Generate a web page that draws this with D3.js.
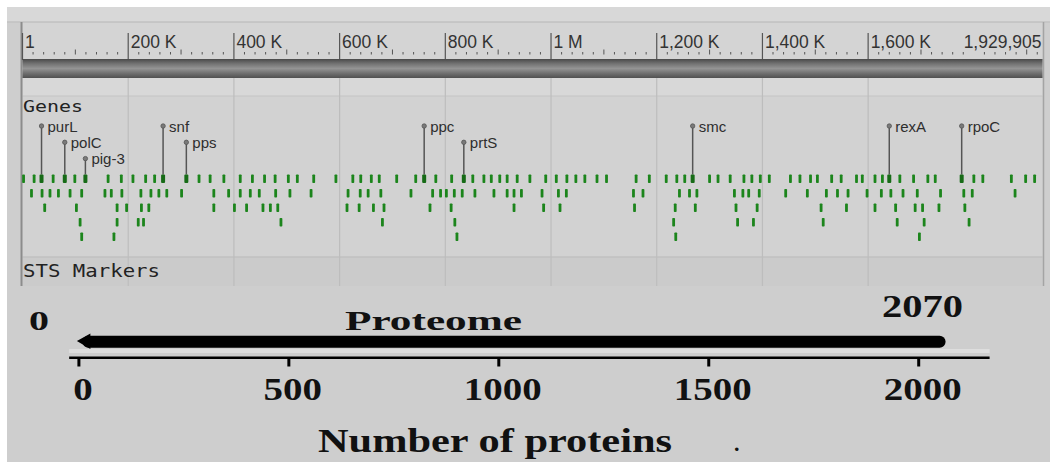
<!DOCTYPE html>
<html>
<head>
<meta charset="utf-8">
<script src="https://cdn.jsdelivr.net/npm/d3@7"></script>
<style>
  body { margin: 0; background: #fff; }
  svg { display: block; }
</style>
</head>
<body>
<svg id="chart" width="1050" height="467"></svg>
<script>
// ---- genome track, positions in kb ----
const genomeLength = 1929.905;
const majorTicks = [0, 200, 400, 600, 800, 1000, 1200, 1400, 1600];
const majorLabels = ["1", "200 K", "400 K", "600 K", "800 K", "1 M", "1,200 K", "1,400 K", "1,600 K"];
const endLabel = "1,929,905";

// gene ticks, one array per stacking row
const geneRow1 = [2, 22, 58, 99, 162, 187, 209, 233, 250, 334, 355, 381, 412, 435, 458, 478, 503, 520, 551, 593,
  625, 640, 660, 675, 708, 744, 782, 812, 852, 873, 887, 903, 917, 936, 960, 990, 1010, 1030, 1047, 1064, 1087,
  1105, 1161, 1186, 1218, 1238, 1253, 1300, 1316, 1339, 1365, 1380, 1396, 1413, 1453, 1471, 1491, 1504, 1531,
  1549, 1578, 1589, 1613, 1627, 1660, 1686, 1713, 1727, 1800, 1817, 1871, 1898, 1915];
const geneRow2 = [17, 37, 52, 68, 90, 112, 156, 168, 188, 224, 243, 258, 273, 301, 362, 390, 412, 431, 448, 479,
  506, 546, 616, 639, 654, 678, 735, 776, 791, 802, 817, 832, 856, 892, 917, 930, 944, 983, 1014, 1029, 1156,
  1174, 1243, 1262, 1276, 1347, 1363, 1374, 1394, 1444, 1485, 1521, 1542, 1562, 1598, 1625, 1643, 1666, 1693,
  1737, 1781, 1797, 1878];
const geneRow3 = [42, 102, 179, 197, 225, 239, 362, 401, 424, 455, 469, 483, 614, 637, 664, 684, 771, 811, 930,
  986, 1017, 1158, 1235, 1273, 1350, 1390, 1511, 1559, 1613, 1652, 1689, 1703, 1734, 1783];
const geneRow4 = [109, 179, 219, 229, 489, 681, 818, 1232, 1353, 1383, 1515, 1655, 1706, 1791];
const geneRow5 = [112, 173, 822, 1236, 1697];

// named genes (kb) and the level of their label
const geneNames = ["purL", "polC", "pig-3", "snf", "pps", "ppc", "prtS", "smc", "rexA", "rpoC"];
const genePos = [36, 80, 119, 266, 310, 760, 835, 1268, 1640, 1777];
const geneLevel = [0, 1, 2, 0, 1, 0, 1, 0, 0, 0];

// ---- proteome ----
const proteomeRange = [0, 2070];
const proteinTicks = [0, 500, 1000, 1500, 2000];
const proteinAxisExtent = [-22, 2170];

const svg = d3.select("#chart");

svg.append("rect").attr("width", 1050).attr("height", 467).attr("fill", "#fff");
svg.append("rect").attr("x", 7).attr("y", 7).attr("width", 1043).attr("height", 455).attr("fill", "#cecece");

const defs = svg.append("defs");
const grad = defs.append("linearGradient").attr("id", "chrom").attr("x1", 0).attr("y1", 0).attr("x2", 0).attr("y2", 1);
[[0, "#4a4a4a"], [0.25, "#737373"], [0.5, "#949494"], [0.75, "#707070"], [1, "#505050"]].forEach(s =>
  grad.append("stop").attr("offset", s[0]).attr("stop-color", s[1]));

const xg = d3.scaleLinear().domain([0, genomeLength]).range([22.5, 1042.5]);

// panel background bands
const panel = svg.append("g");
panel.append("rect").attr("x", 7).attr("y", 7).attr("width", 1043).attr("height", 15).attr("fill", "#d8d8d8");
panel.append("line").attr("x1", 7).attr("x2", 1050).attr("y1", 22).attr("y2", 22).attr("stroke", "#c2c2c2").attr("stroke-width", 1.5);
panel.append("rect").attr("x", xg(0)).attr("y", 23).attr("width", xg(genomeLength) - xg(0)).attr("height", 36).attr("fill", "#d4d4d4");
panel.append("rect").attr("x", xg(0)).attr("y", 78).attr("width", xg(genomeLength) - xg(0)).attr("height", 18).attr("fill", "#d8d8d8");
panel.append("rect").attr("x", xg(0)).attr("y", 96).attr("width", xg(genomeLength) - xg(0)).attr("height", 161).attr("fill", "#d2d2d2");
panel.append("rect").attr("x", xg(0)).attr("y", 257).attr("width", xg(genomeLength) - xg(0)).attr("height", 29).attr("fill", "#cbcbcb");
panel.append("line").attr("x1", xg(0)).attr("x2", xg(genomeLength)).attr("y1", 96).attr("y2", 96).attr("stroke", "#c4c4c4");
panel.append("line").attr("x1", xg(0)).attr("x2", xg(genomeLength)).attr("y1", 257).attr("y2", 257).attr("stroke", "#c0c0c0").attr("stroke-width", 1.5);

// grid lines at the major ticks
panel.selectAll(".grid").data(majorTicks.slice(1)).join("line")
  .attr("x1", d => xg(d)).attr("x2", d => xg(d)).attr("y1", 78).attr("y2", 286)
  .attr("stroke", "#bdbdbd").attr("stroke-width", 1.2);

// left / right border of the panel
panel.append("line").attr("x1", xg(0) - 1).attr("x2", xg(0) - 1).attr("y1", 22).attr("y2", 286).attr("stroke", "#8c8c8c").attr("stroke-width", 2);
panel.append("line").attr("x1", xg(genomeLength) + 1).attr("x2", xg(genomeLength) + 1).attr("y1", 22).attr("y2", 286).attr("stroke", "#a4a4a4").attr("stroke-width", 1.5);

// minor ticks every 20 kb
const minor = d3.range(20, genomeLength, 20).filter(d => d % 200 !== 0);
panel.selectAll(".minor").data(minor).join("line")
  .attr("x1", d => xg(d)).attr("x2", d => xg(d))
  .attr("y1", d => d % 100 === 0 ? 49.5 : 52).attr("y2", 54.5)
  .attr("stroke", "#555").attr("stroke-width", 1);

panel.selectAll(".major").data(majorTicks).join("line")
  .attr("x1", d => xg(d)).attr("x2", d => xg(d)).attr("y1", 33).attr("y2", 60)
  .attr("stroke", "#555").attr("stroke-width", 1.2);

panel.selectAll(".mlabel").data(majorTicks).join("text")
  .attr("x", d => xg(d) + 2.5).attr("y", 47.5)
  .attr("font-family", "Liberation Sans, Arial, sans-serif").attr("font-size", 17.5)
  .attr("fill", "#333").text((d, i) => majorLabels[i]);

panel.append("text").attr("x", xg(genomeLength) - 1).attr("y", 47.5).attr("text-anchor", "end")
  .attr("font-family", "Liberation Sans, Arial, sans-serif").attr("font-size", 17.5)
  .attr("fill", "#333").text(endLabel);

// chromosome bar
panel.append("rect").attr("x", xg(0)).attr("y", 59).attr("width", xg(genomeLength) - xg(0)).attr("height", 19)
  .attr("fill", "url(#chrom)");

// track titles
panel.append("text").attr("x", 23).attr("y", 112).attr("textLength", 60).attr("lengthAdjust", "spacingAndGlyphs")
  .attr("font-family", "DejaVu Sans Mono, monospace").attr("font-size", 16).attr("fill", "#222").text("Genes");
panel.append("text").attr("x", 23).attr("y", 277).attr("textLength", 137).attr("lengthAdjust", "spacingAndGlyphs")
  .attr("font-family", "DejaVu Sans Mono, monospace").attr("font-size", 17).attr("fill", "#222").text("STS Markers");

// gene ticks
const rowTop = 174.5, rowStep = 14.5, tickH = 8.5;
const genes = [geneRow1, geneRow2, geneRow3, geneRow4, geneRow5]
  .flatMap((row, r) => row.map(kb => ({ kb, row: r })));

panel.selectAll(".gene").data(genes).join("rect")
  .attr("x", d => xg(d.kb) - 1.4).attr("y", d => rowTop + d.row * rowStep)
  .attr("width", 2.8).attr("height", tickH).attr("rx", 0.8)
  .attr("fill", "#1c851c");

// named genes with stems
const named = geneNames.map((name, i) => ({ name, kb: genePos[i], level: geneLevel[i] }));
const knobY = d => 126 + d.level * 16.3;

const ng = panel.selectAll(".named").data(named).join("g");
ng.append("line")
  .attr("x1", d => xg(d.kb)).attr("x2", d => xg(d.kb))
  .attr("y1", knobY).attr("y2", rowTop)
  .attr("stroke", "#555").attr("stroke-width", 1.5);
ng.append("circle")
  .attr("cx", d => xg(d.kb)).attr("cy", knobY).attr("r", 2.2)
  .attr("fill", "#7a7a7a").attr("stroke", "#555").attr("stroke-width", 0.8);
ng.append("rect")
  .attr("x", d => xg(d.kb) - 2).attr("y", rowTop).attr("width", 4).attr("height", tickH).attr("rx", 1)
  .attr("fill", "#176b17");
ng.append("text")
  .attr("x", d => xg(d.kb) + 6).attr("y", d => knobY(d) + 5.5)
  .attr("font-family", "Liberation Sans, Arial, sans-serif").attr("font-size", 15)
  .attr("fill", "#2e2e2e").text(d => d.name);

// ---- proteome bar and axis ----
const xp = d3.scaleLinear().domain([0, 2000]).range([78.4, 918.2]);
const bottom = svg.append("g");
const serif = "Liberation Serif, Times New Roman, serif";

bottom.append("rect").attr("x", xp(proteinAxisExtent[0])).attr("y", 349)
  .attr("width", xp(proteinAxisExtent[1]) - xp(proteinAxisExtent[0])).attr("height", 4).attr("fill", "#dedede");

bottom.append("line")
  .attr("x1", xp(proteomeRange[0]) + 10).attr("x2", xp(proteomeRange[1]) - 8)
  .attr("y1", 341.7).attr("y2", 341.7)
  .attr("stroke", "#000").attr("stroke-width", 12).attr("stroke-linecap", "round");
bottom.append("path")
  .attr("d", `M${xp(proteomeRange[0]) - 1.5},341 L${xp(proteomeRange[0]) + 12},333.5 L${xp(proteomeRange[0]) + 12},349 Z`)
  .attr("fill", "#000");

bottom.append("text").attr("x", 29).attr("y", 330).attr("textLength", 20).attr("lengthAdjust", "spacingAndGlyphs")
  .attr("font-family", serif).attr("font-weight", "bold").attr("font-size", 28).attr("fill", "#111")
  .text(proteomeRange[0]);
bottom.append("text").attr("x", 345).attr("y", 330).attr("textLength", 177).attr("lengthAdjust", "spacingAndGlyphs")
  .attr("font-family", serif).attr("font-weight", "bold").attr("font-size", 28).attr("fill", "#111")
  .text("Proteome");
bottom.append("text").attr("x", 882).attr("y", 317).attr("textLength", 81).attr("lengthAdjust", "spacingAndGlyphs")
  .attr("font-family", serif).attr("font-weight", "bold").attr("font-size", 31).attr("fill", "#111")
  .text(proteomeRange[1]);

bottom.append("line")
  .attr("x1", xp(proteinAxisExtent[0])).attr("x2", xp(proteinAxisExtent[1]))
  .attr("y1", 357.8).attr("y2", 357.8).attr("stroke", "#000").attr("stroke-width", 2.5);

const axis = bottom.append("g").attr("transform", "translate(0,358.5)")
  .call(d3.axisBottom(xp).tickValues(proteinTicks).tickFormat(d3.format("d")).tickSize(8).tickSizeOuter(0));
axis.select(".domain").remove();
axis.selectAll(".tick line").attr("stroke", "#000").attr("stroke-width", 3);
axis.selectAll(".tick text")
  .attr("y", 41.5).attr("dy", 0).attr("dx", 4)
  .attr("textLength", d => String(d).length * 19.5).attr("lengthAdjust", "spacingAndGlyphs")
  .attr("font-family", serif).attr("font-weight", "bold").attr("font-size", 31).attr("fill", "#111");

bottom.append("text").attr("x", 318).attr("y", 452).attr("textLength", 354).attr("lengthAdjust", "spacingAndGlyphs")
  .attr("font-family", serif).attr("font-weight", "bold").attr("font-size", 33).attr("fill", "#111")
  .text("Number of proteins");
bottom.append("text").attr("x", 734).attr("y", 451)
  .attr("font-family", serif).attr("font-weight", "bold").attr("font-size", 22).attr("fill", "#111")
  .text(".");
</script>
</body>
</html>
